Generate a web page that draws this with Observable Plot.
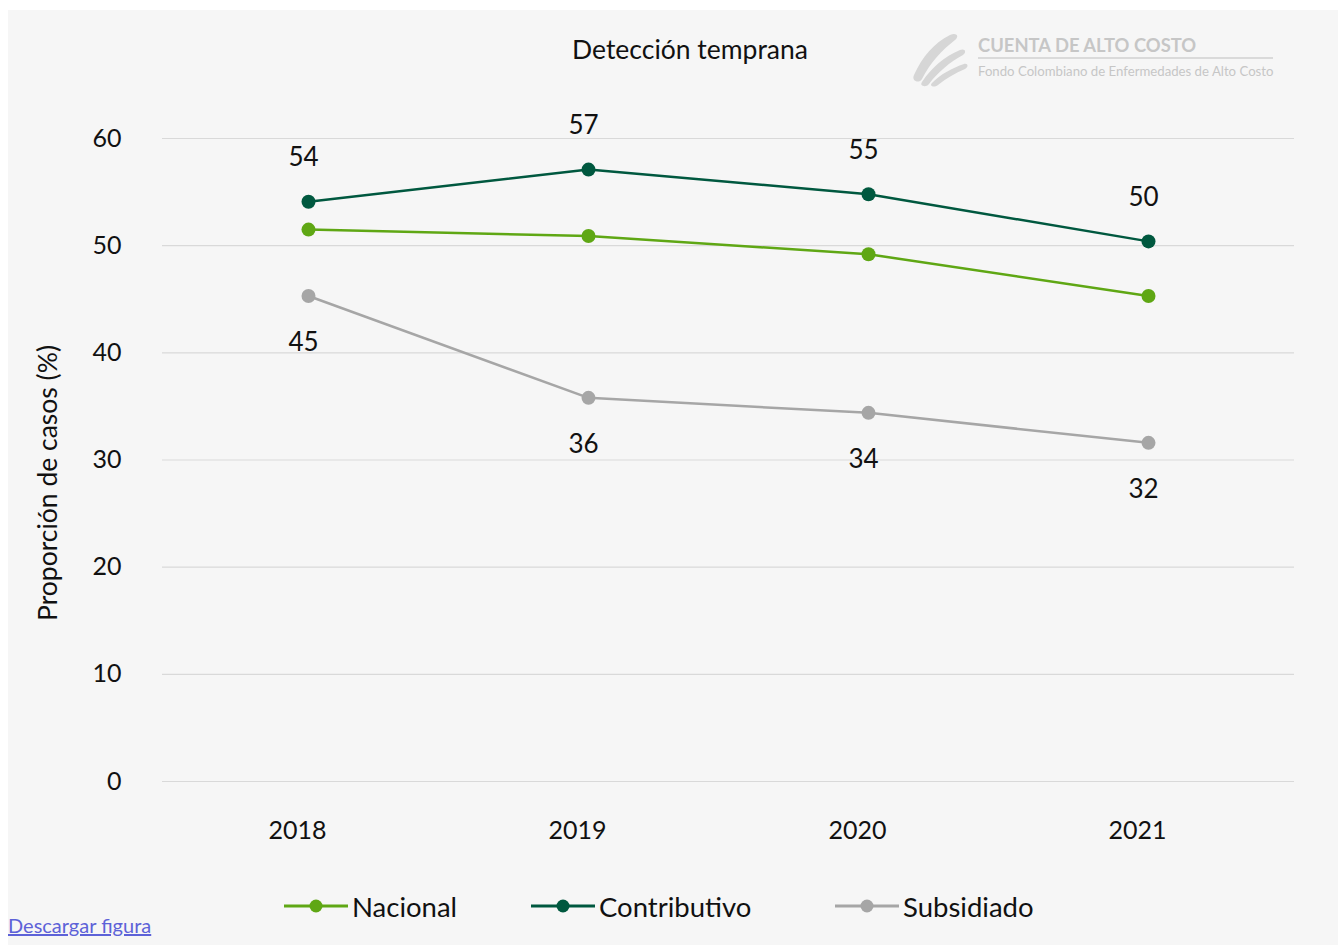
<!DOCTYPE html>
<html>
<head>
<meta charset="utf-8">
<script src="https://cdn.jsdelivr.net/npm/d3@7"></script>
<script src="https://cdn.jsdelivr.net/npm/@observablehq/plot@0.6"></script>
<style>
  html, body { margin: 0; padding: 0; background: #ffffff; }
  body { width: 1338px; height: 947px; position: relative; overflow: hidden; font-family: Lato, "Noto Sans", sans-serif; }
  #panel { position: absolute; left: 8px; top: 10px; width: 1330px; height: 935px; background: #f6f6f6; }
  #title { position: absolute; left: 0; width: 1364px; top: 23px; text-align: center; font-size: 26.5px; color: #111; }
  #chart { position: absolute; left: 0; top: 0; }
  #logo { position: absolute; left: 900px; top: 20px; }
  #legend { position: absolute; left: 0; top: 876px; width: 1330px; height: 40px; }
  .lg { position: absolute; top: 0; display: flex; align-items: center; height: 40px; font-size: 27.5px; color: #111; }
  .lg svg { margin-right: 4px; }
  #dl { position: absolute; left: 8px; top: 913px; font-size: 20px; color: #5d62d8; text-decoration: underline; font-family: Lato, sans-serif; }
</style>
</head>
<body>
<div id="panel">
  <div id="chart"></div>
  <div id="title">Detección temprana</div>
  <svg id="logo" width="400" height="70">
    <g fill="#d6d6d6" transform="translate(-6,-9)">
      <path d="M12 54 C 20 36, 32 22, 48 14 C 54 11, 58 15, 53 19 C 40 29, 28 42, 20 58 C 17 63, 9 60, 12 54 Z"/>
      <path d="M20 61 C 30 46, 42 36, 58 29 C 63 27, 65 31, 61 34 C 48 41, 36 51, 27 63 C 24 67, 17 65, 20 61 Z"/>
      <path d="M30 62 C 39 53, 50 47, 62 43 C 66 42, 67 46, 63 48 C 53 52, 45 57, 36 64 C 32 67, 27 65, 30 62 Z"/>
    </g>
    <text x="70" y="22" font-family="Lato, sans-serif" font-weight="bold" font-size="18.4" fill="#c6c6c6">CUENTA DE ALTO COSTO</text>
    <line x1="70" x2="365" y1="28" y2="28" stroke="#d0d0d0" stroke-width="1.5"/>
    <text x="70" y="46" font-family="Lato, sans-serif" font-size="13.2" fill="#c6c6c6">Fondo Colombiano de Enfermedades de Alto Costo</text>
  </svg>
  <div id="legend"></div>
</div>
<a id="dl" href="#">Descargar figura</a>
<script>
const years = ["2018", "2019", "2020", "2021"];
const nacional = [51.5, 50.9, 49.2, 45.3];
const contributivo = [54.1, 57.1, 54.8, 50.4];
const subsidiado = [45.3, 35.8, 34.4, 31.6];
const seriesNames = ["Nacional", "Contributivo", "Subsidiado"];
const seriesColors = ["#5fa714", "#00583f", "#a6a6a6"];
const yTicks = [0, 10, 20, 30, 40, 50, 60];
const yLabel = "Proporción de casos (%)";

const seriesValues = [nacional, contributivo, subsidiado];
const rows = [];
seriesNames.forEach((s, i) => {
  years.forEach((y, j) => rows.push({series: s, year: y, value: seriesValues[i][j]}));
});
const contribRows = rows.filter(d => d.series === "Contributivo");
const subsRows = rows.filter(d => d.series === "Subsidiado");

const plot = Plot.plot({
  width: 1330,
  height: 845,
  marginLeft: 154,
  marginRight: 44,
  marginTop: 128,
  marginBottom: 74,
  style: {background: "transparent", fontFamily: "Lato, 'Noto Sans', sans-serif", fontSize: "25px", color: "#111"},
  x: {type: "point", domain: years, padding: 0.515},
  y: {domain: [0, 60]},
  color: {domain: seriesNames, range: seriesColors},
  marks: [
    Plot.ruleY(yTicks, {stroke: "#d9d9d9", strokeWidth: 1.2}),
    Plot.axisY(yTicks, {tickSize: 0, tickPadding: 41, fontSize: 25, label: null}),
    Plot.axisX({tickSize: 0, tickPadding: 40, dx: -11, fontSize: 25, label: null}),
    Plot.text([yLabel], {frameAnchor: "left", textAnchor: "middle", dx: -114, dy: 23, rotate: -90, fontSize: 26.5, fill: "#111"}),
    Plot.line(rows, {x: "year", y: "value", z: "series", stroke: "series", strokeWidth: 2.5}),
    Plot.dot(rows, {x: "year", y: "value", fill: "series", r: 7}),
    Plot.text(contribRows, {x: "year", y: "value", text: d => Math.round(d.value), dx: -5, dy: -44, fontSize: 26, fill: "#111"}),
    Plot.text(subsRows, {x: "year", y: "value", text: d => Math.round(d.value), dx: -5, dy: 47, fontSize: 26, fill: "#111"})
  ]
});
document.getElementById("chart").appendChild(plot);

const legend = document.getElementById("legend");
const legendX = [276, 523, 827];
seriesNames.forEach((s, i) => {
  const el = document.createElement("div");
  el.className = "lg";
  el.style.left = legendX[i] + "px";
  el.innerHTML = `<svg width="64" height="20"><line x1="0" x2="64" y1="10" y2="10" stroke="${seriesColors[i]}" stroke-width="3"/><circle cx="32" cy="10" r="6.5" fill="${seriesColors[i]}"/></svg><span>${s}</span>`;
  legend.appendChild(el);
});
</script>
</body>
</html>
